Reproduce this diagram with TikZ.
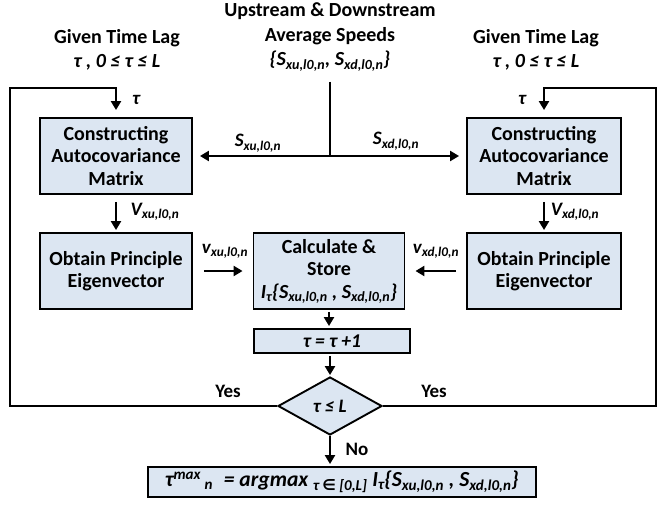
\documentclass[tikz,border=0pt]{standalone}
\usepackage{fontspec}
\setmainfont{Carlito}
\newfontfamily\symfont{DejaVu Sans}
\usetikzlibrary{positioning,shapes.geometric,arrows.meta}
\definecolor{boxblue}{RGB}{220,230,242}
\newcommand{\sbs}[1]{\textsubscript{#1}}
\newcommand{\Sxu}{S\sbs{xu,l0,n}}
\newcommand{\Sxd}{S\sbs{xd,l0,n}}
\tikzset{
  stepbox/.style={draw, line width=1.9pt, fill=boxblue, align=center,
                  inner sep=0pt, font=\fontsize{20}{22.5}\selectfont\bfseries},
  decbox/.style={diamond, draw, line width=1.9pt, fill=boxblue, inner sep=0pt,
                 minimum width=104pt, minimum height=58pt, aspect=1.8,
                 font=\fontsize{19}{22}\selectfont\bfseries\itshape},
  lbl/.style={font=\fontsize{19}{22}\selectfont\bfseries\itshape, inner sep=0pt},
  ttl/.style={font=\fontsize{20}{24.5}\selectfont\bfseries, align=center, inner sep=0pt},
  flow/.style={line width=2.8pt, -{Triangle[length=9pt,width=10pt]}}
}
\begin{document}
\begin{tikzpicture}[x=1pt,y=-1pt]
  \useasboundingbox (0,0) rectangle (658,505);
  % headings
  \node[ttl] (speeds) at (330,37) {Upstream \& Downstream\\Average Speeds\\
        \itshape\{\Sxu, \Sxd\}};
  \node[ttl] (lagL) at (117,50) {Given Time Lag\\\itshape τ , 0 ≤ τ ≤ L};
  \node[ttl] (lagR) at (536,50) {Given Time Lag\\\itshape τ , 0 ≤ τ ≤ L};
  % boxes
  \node[stepbox, minimum width=152pt, minimum height=76pt] (camL) at (116,156)
        {Constructing\\Autocovariance\\Matrix};
  \node[stepbox, minimum width=154pt, minimum height=76pt] (camR) at (544,156)
        {Constructing\\Autocovariance\\Matrix};
  \node[stepbox, minimum width=152pt, minimum height=76pt] (eigL) at (116,271)
        {Obtain Principle\\Eigenvector};
  \node[stepbox, minimum width=154pt, minimum height=76pt] (eigR) at (544,271)
        {Obtain Principle\\Eigenvector};
  \node[stepbox, minimum width=151pt, minimum height=76pt] (calc) at (329,271)
        {Calculate \&\\Store\\\itshape I\sbs{τ}\{\Sxu\ , \Sxd\}};
  \node[stepbox, minimum width=156pt, minimum height=24pt, font=\fontsize{19.5}{22}\selectfont\bfseries\itshape]
        (inc) at (332,341) {τ = τ +1};
  \node[decbox] (dec) at (330,406) {τ ≤ L};
  \node[stepbox, minimum width=388pt, minimum height=30pt, font=\fontsize{21.5}{22}\selectfont\bfseries\itshape]
        (res) at (342,482)
        {τ\textsuperscript{max}\,\textsubscript{n}\; = argmax \textsubscript{τ {\symfont ∈} [0,L]} I\sbs{τ}\{\Sxu\ , \Sxd\}};
  % loop corners and junction
  \coordinate (loopL) at (10,88);
  \coordinate (loopR) at (656,88);
  \coordinate (spd) at (330,82);
  % connectors
  \draw[flow, shorten >=7pt] (dec.west) -| (loopL) -| (camL.north);
  \draw[flow, shorten >=7pt] (dec.east) -| (loopR) -| (camR.north);
  \draw[flow, shorten >=7pt] (spd) |- (camL.east);
  \draw[flow, shorten >=7pt] (spd) |- (camR.west);
  \path[flow]
    (camL) edge[shorten <=7pt, shorten >=2pt] (eigL)
    (camR) edge[shorten <=7pt, shorten >=2pt] (eigR)
    (eigL) edge[shorten <=11pt, shorten >=10pt] (calc)
    (eigR) edge[shorten <=10pt, shorten >=10pt] (calc)
    (calc) edge[shorten <=2pt, shorten >=2pt] (calc.south|-inc.north)
    (inc.south-|dec) edge[shorten <=2pt, shorten >=1pt] (dec)
    (dec) edge[shorten >=2pt] (dec.south|-res.north);
  % labels
  \node[lbl] (tauL) at (136,100) {τ};
  \node[lbl] (tauR) at (522,100) {τ};
  \node[lbl] (sxu) at (258,143) {\Sxu};
  \node[lbl] (sxd) at (396,141) {\Sxd};
  \node[lbl] (vxu) at (155,212) {V\sbs{xu,l0,n}};
  \node[lbl] (vxd) at (575,212) {V\sbs{xd,l0,n}};
  \node[lbl] (wxu) at (225,251) {v\sbs{xu,l0,n}};
  \node[lbl] (wxd) at (436,251) {v\sbs{xd,l0,n}};
  \node[lbl, font=\fontsize{19}{22}\selectfont\bfseries] (yesL) at (228,391) {Yes};
  \node[lbl, font=\fontsize{19}{22}\selectfont\bfseries] (yesR) at (434,391) {Yes};
  \node[lbl, font=\fontsize{19}{22}\selectfont\bfseries] (no) at (357,449) {No};
\end{tikzpicture}
\end{document}
